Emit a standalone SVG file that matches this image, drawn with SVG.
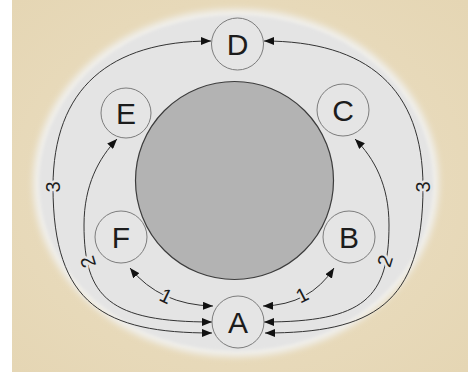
<svg xmlns="http://www.w3.org/2000/svg" width="468" height="372" viewBox="0 0 468 372">
<defs>
<style>
.node circle{fill:#e5e5e5;stroke:#7c7c7c;stroke-width:1}
.node text{font-family:"Liberation Sans",Arial,sans-serif;font-size:30px;fill:#1c1c1c;text-anchor:middle}
.conn path{fill:none;stroke:#333;stroke-width:1;marker-start:url(#ah);marker-end:url(#ah)}
.lbl{font-family:"Liberation Sans",Arial,sans-serif;font-size:20px;fill:#1c1c1c;text-anchor:middle;stroke:#e4e4e4;stroke-width:5;paint-order:stroke;stroke-linejoin:round}
</style>
<marker id="ah" viewBox="0 0 10 8" refX="10" refY="4" markerWidth="10" markerHeight="8" markerUnits="userSpaceOnUse" orient="auto-start-reverse">
<path d="M0,0 L10,4 L0,8 z" fill="#111"/>
</marker>
<filter id="blur" x="-10%" y="-10%" width="120%" height="120%"><feGaussianBlur stdDeviation="3"/></filter>
<filter id="blur2" x="-10%" y="-10%" width="120%" height="120%"><feGaussianBlur stdDeviation="1.5"/></filter>
<radialGradient id="bg" cx="0.5" cy="0.5" r="0.7">
<stop offset="0" stop-color="#ece0c5"/>
<stop offset="1" stop-color="#e5d6b4"/>
</radialGradient>
</defs>
<rect x="0" y="0" width="468" height="372" fill="#ffffff"/>
<rect x="12" y="0" width="456" height="372" fill="url(#bg)"/>
<ellipse cx="236" cy="183" rx="203" ry="174" fill="#f0efeb" filter="url(#blur)"/>
<ellipse cx="236" cy="183" rx="197" ry="168" fill="#e4e4e4" filter="url(#blur2)"/>
<g id="center">
<circle cx="234.5" cy="180.5" r="99" fill="#b3b3b3" stroke="#3c3c3c" stroke-width="1.2"/>
</g>
<g class="conn" id="connectors">
<path d="M212,333 C105,333 53,305 53,187 C53,88 110,41 211,41"/>
<path d="M265,333 C372,333 423,305 423,187 C423,88 367,41 264,41"/>
<path d="M212,322 C110,322 84,298 84,225 C84,185 99,158 117,139"/>
<path d="M264,322 C364,322 389,298 389,225 C389,185 374,158 355,139"/>
<path d="M130,268 Q160,305 213,306"/>
<path d="M263,306 Q310,305 334,268"/>
<text class="lbl" transform="translate(53,187) rotate(-90)" y="7">3</text>
<text class="lbl" transform="translate(423,187) rotate(-90)" y="7">3</text>
<text class="lbl" transform="translate(88,262) rotate(-107)" y="7">2</text>
<text class="lbl" transform="translate(385,261) rotate(-73)" y="7">2</text>
<text class="lbl" transform="translate(166,296) rotate(26)" y="7">1</text>
<text class="lbl" transform="translate(302,295) rotate(-27)" y="7">1</text>
</g>
<g class="node" id="node-D"><circle cx="237.5" cy="44" r="26"/><text x="237.5" y="55">D</text></g>
<g class="node" id="node-E"><circle cx="126" cy="113" r="25"/><text x="126" y="124">E</text></g>
<g class="node" id="node-C"><circle cx="343" cy="110" r="26"/><text x="343" y="121">C</text></g>
<g class="node" id="node-F"><circle cx="121" cy="237" r="26"/><text x="121" y="248">F</text></g>
<g class="node" id="node-B"><circle cx="349" cy="237" r="26"/><text x="349" y="248">B</text></g>
<g class="node" id="node-A"><circle cx="238" cy="322" r="26"/><text x="238" y="333">A</text></g>
</svg>
